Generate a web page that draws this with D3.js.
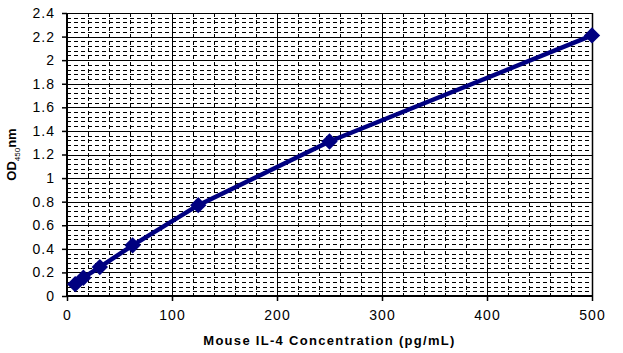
<!DOCTYPE html>
<html>
<head>
<meta charset="utf-8">
<script src="https://cdn.jsdelivr.net/npm/d3@7"></script>
<style>
  body { margin: 0; background: #fff; }
  text { font-family: "Liberation Sans", Arial, sans-serif; }
</style>
</head>
<body>
<div id="chart"></div>
<script>
// standard curve points
var concentrations = [7.8, 15.6, 31.25, 62.5, 125, 250, 500];
var odValues = [0.10, 0.155, 0.245, 0.43, 0.77, 1.31, 2.21];
var xTicks = [0, 100, 200, 300, 400, 500];
var yTicks = [0, 0.2, 0.4, 0.6, 0.8, 1, 1.2, 1.4, 1.6, 1.8, 2, 2.2, 2.4];

var w = 623, h = 353;
var margin = { top: 13, right: 31, bottom: 57, left: 67 };
var width = w - margin.left - margin.right;
var height = h - margin.top - margin.bottom;

var svg = d3.select('#chart').append('svg')
  .attr('width', w)
  .attr('height', h);

var x = d3.scaleLinear().domain([0, 500]).range([0, width]);
var y = d3.scaleLinear().domain([0, 2.4]).range([height, 0]);

var chart = svg.append('g')
  .attr('transform', 'translate(' + margin.left + ',' + margin.top + ')');

// minor dashed grid
var minorX = d3.range(20, 500, 20).filter(function (d) { return d % 100 !== 0; });
var minorY = d3.range(1, 60).map(function (i) { return i * 0.04; })
  .filter(function (d, i) { return (i + 1) % 5 !== 0; });

chart.selectAll('.minor-x').data(minorX).enter().append('line')
  .attr('x1', function (d) { return Math.round(x(d)) + 0.5; })
  .attr('x2', function (d) { return Math.round(x(d)) + 0.5; })
  .attr('y1', 0).attr('y2', height)
  .attr('stroke', '#000').attr('stroke-width', 1).attr('stroke-dasharray', '4,3');

chart.selectAll('.minor-y').data(minorY).enter().append('line')
  .attr('y1', function (d) { return Math.round(y(d)) + 0.5; })
  .attr('y2', function (d) { return Math.round(y(d)) + 0.5; })
  .attr('x1', 0).attr('x2', width)
  .attr('stroke', '#000').attr('stroke-width', 1).attr('stroke-dasharray', '4,3');

// major grid
chart.selectAll('.major-x').data(xTicks).enter().append('line')
  .attr('x1', function (d) { return Math.round(x(d)) + 0.5; })
  .attr('x2', function (d) { return Math.round(x(d)) + 0.5; })
  .attr('y1', 0).attr('y2', height)
  .attr('stroke', '#000').attr('stroke-width', 1);

chart.selectAll('.major-y').data(yTicks).enter().append('line')
  .attr('y1', function (d) { return Math.round(y(d)) + 0.5; })
  .attr('y2', function (d) { return Math.round(y(d)) + 0.5; })
  .attr('x1', 0).attr('x2', width)
  .attr('stroke', '#000').attr('stroke-width', 1);

// axes
var xAxis = chart.append('g')
  .attr('transform', 'translate(0,' + height + ')')
  .call(d3.axisBottom(x).tickValues(xTicks).tickSize(5).tickPadding(9));
var yAxis = chart.append('g')
  .call(d3.axisLeft(y).tickValues(yTicks).tickSize(5).tickPadding(7)
    .tickFormat(function (d) { return String(+d.toFixed(1)); }));

[xAxis, yAxis].forEach(function (a) {
  a.select('.domain').attr('stroke', '#000').attr('stroke-width', 2);
  a.selectAll('.tick line').attr('stroke', '#000').attr('stroke-width', 1.5);
  a.selectAll('.tick text')
    .attr('fill', '#000')
    .style('font-size', '14px')
    .style('letter-spacing', '1px')
    .style('font-family', '"Liberation Sans", Arial, sans-serif');
});
yAxis.select('.domain').attr('d', 'M0,' + height + 'V0');
xAxis.select('.domain').attr('d', 'M0,0H' + width);
chart.append('line')
  .attr('x1', width + 0.5).attr('x2', width + 0.5)
  .attr('y1', 0).attr('y2', height)
  .attr('stroke', '#000').attr('stroke-width', 1.5);

// curve
var pts = concentrations.map(function (c, i) { return [c, odValues[i]]; });
var line = d3.line()
  .x(function (d) { return x(d[0]); })
  .y(function (d) { return y(d[1]); });

chart.append('path')
  .datum(pts)
  .attr('d', line)
  .attr('fill', 'none')
  .attr('stroke', '#000080')
  .attr('stroke-width', 4.5)
  .attr('stroke-linejoin', 'round');

chart.selectAll('.pt').data(pts).enter().append('path')
  .attr('d', d3.symbol().type(d3.symbolDiamond2).size(170))
  .attr('transform', function (d) { return 'translate(' + x(d[0]) + ',' + y(d[1]) + ')'; })
  .attr('fill', '#000080');

// axis titles
svg.append('text')
  .attr('x', margin.left + width / 2)
  .attr('y', 345)
  .attr('text-anchor', 'middle')
  .style('font-size', '13px')
  .style('font-weight', 'bold')
  .style('letter-spacing', '1.3px')
  .text('Mouse IL-4 Concentration (pg/mL)');

var yt = svg.append('text')
  .attr('transform', 'translate(16,' + (margin.top + height / 2) + ') rotate(-90)')
  .attr('text-anchor', 'middle')
  .style('font-size', '13px')
  .style('font-weight', 'bold');
yt.append('tspan').text('OD');
yt.append('tspan').attr('dy', 4).style('font-size', '8px').style('font-weight', 'normal').text('450');
yt.append('tspan').attr('dy', -4).text('nm');
</script>
</body>
</html>
